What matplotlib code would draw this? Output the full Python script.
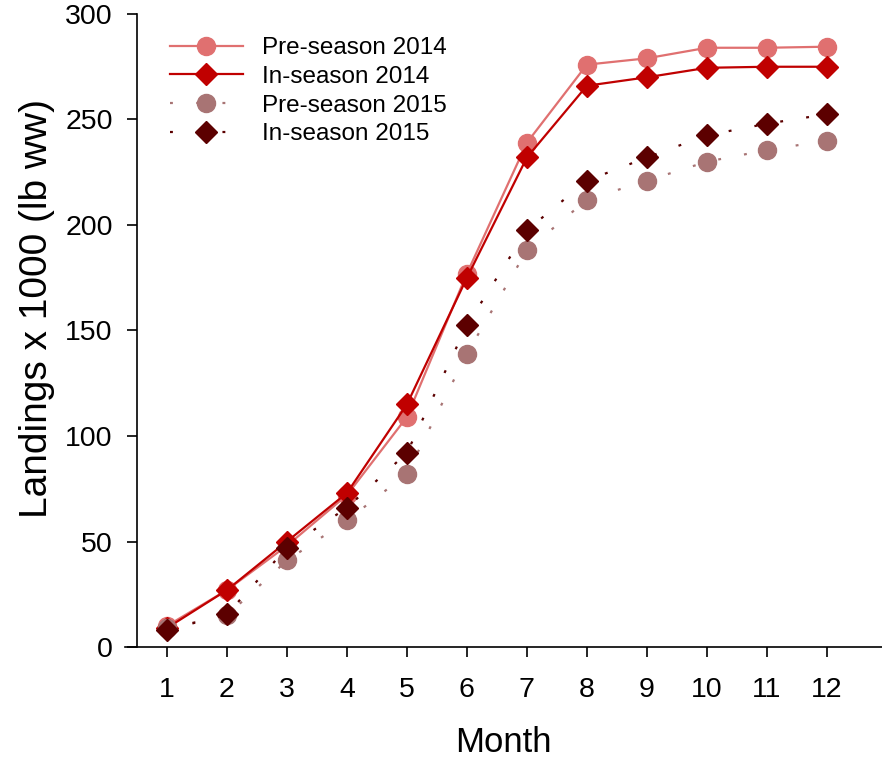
import numpy as np
import matplotlib
matplotlib.use('Agg')
import matplotlib.pyplot as plt

plt.rcParams['font.family'] = ['Liberation Sans', 'DejaVu Sans']

months = list(range(1, 13))
pre_2014 = [10, 27, 48, 72, 109, 177, 239, 276, 279, 284, 284, 284.5]
in_2014 = [9, 27, 50, 73, 115, 175, 232, 266, 270, 274.5, 275, 275]
pre_2015 = [9, 15, 41, 60, 82, 139, 188, 212, 221, 230, 235.5, 240]
in_2015 = [8, 15.5, 47, 66, 92, 152.5, 197.5, 221, 232, 242.5, 248, 252.5]

labels = ['Pre-season 2014', 'In-season 2014', 'Pre-season 2015', 'In-season 2015']
colors = ['#E07070', '#C00000', '#A87474', '#5C0000']

fig = plt.figure(figsize=(8.82, 7.62), dpi=100)
ax = fig.add_axes([125 / 882, 1 - 647 / 762, 1 - 125 / 882, (647 - 14) / 762])

dots = (0, (1.3, 10.5))
ax.plot(months, pre_2014, color=colors[0], lw=1.6, marker='o', ms=13, label=labels[0])
ax.plot(months, in_2014, color=colors[1], lw=1.6, marker='D', ms=11, label=labels[1])
ax.plot(months, pre_2015, color=colors[2], lw=1.6, ls=dots, marker='o', ms=13, label=labels[2])
ax.plot(months, in_2015, color=colors[3], lw=1.6, ls=dots, marker='D', ms=11, label=labels[3])

ax.set_xlim(0.3, 12.92)
ax.set_ylim(0, 300)
ax.set_xticks(months)
ax.set_yticks(np.arange(0, 301, 50))

for spine in ['top', 'right']:
    ax.spines[spine].set_visible(False)
ax.spines['left'].set_position(('data', 0.5))
ax.spines['left'].set_linewidth(1.2)
ax.spines['bottom'].set_linewidth(1.2)

ax.tick_params(axis='both', direction='out', length=7.5, width=1.2, labelsize=20.5)
ax.tick_params(axis='x', pad=14)
ax.tick_params(axis='y', pad=10)
ax.set_xlabel('Month', fontsize=25, labelpad=16.5)
ax.set_ylabel('Landings x 1000 (lb ww)', fontsize=28, labelpad=7)
ax.yaxis.label.set_y(0.535)

ax.legend(loc='upper left', bbox_to_anchor=(0.037, 0.99), frameon=False, fontsize=17.5,
          handlelength=3.0, handletextpad=0.8, labelspacing=0.27, borderaxespad=0.3)

fig.savefig('out.png', dpi=100)
